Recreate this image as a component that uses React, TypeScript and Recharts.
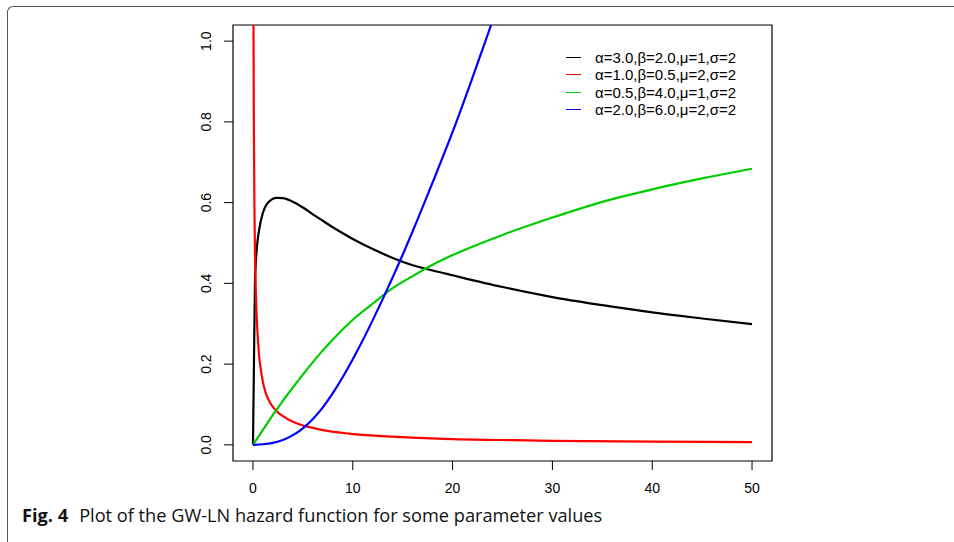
import { Legend, Line, LineChart, ReferenceArea, XAxis, YAxis } from "recharts";

const X_TICKS = [0, 10, 20, 30, 40, 50];
const Y_TICKS = [0, 0.2, 0.4, 0.6, 0.8, 1.0];

const SERIES_LABELS = [
  "α=3.0,β=2.0,μ=1,σ=2",
  "α=1.0,β=0.5,μ=2,σ=2",
  "α=0.5,β=4.0,μ=1,σ=2",
  "α=2.0,β=6.0,μ=2,σ=2",
];
const SERIES_COLORS = ["#000000", "#ff0000", "#00cd00", "#0000ff"];

// hazard values, one list per curve
const blackCurve = [
  { x: 0, y: 0 }, { x: 0.1, y: 0.2 }, { x: 0.2, y: 0.4 }, { x: 0.4, y: 0.49 },
  { x: 0.6, y: 0.53 }, { x: 1.0, y: 0.575 }, { x: 1.5, y: 0.6 }, { x: 2.4, y: 0.612 },
  { x: 3, y: 0.611 }, { x: 4, y: 0.602 }, { x: 5, y: 0.588 }, { x: 6, y: 0.571 },
  { x: 7, y: 0.555 }, { x: 8, y: 0.539 }, { x: 9, y: 0.524 }, { x: 10, y: 0.51 },
  { x: 12, y: 0.485 }, { x: 14, y: 0.463 }, { x: 16, y: 0.445 }, { x: 18, y: 0.432 },
  { x: 20, y: 0.42 }, { x: 25, y: 0.391 }, { x: 30, y: 0.366 }, { x: 35, y: 0.346 },
  { x: 40, y: 0.328 }, { x: 45, y: 0.313 }, { x: 50, y: 0.299 },
];

const redCurve = [
  { x: 0.02, y: 1.4 }, { x: 0.05, y: 1.05 }, { x: 0.1, y: 0.75 }, { x: 0.15, y: 0.58 },
  { x: 0.2, y: 0.48 }, { x: 0.3, y: 0.37 }, { x: 0.45, y: 0.28 }, { x: 0.6, y: 0.225 },
  { x: 0.8, y: 0.185 }, { x: 1.0, y: 0.155 }, { x: 1.3, y: 0.127 }, { x: 1.7, y: 0.105 },
  { x: 2.3, y: 0.085 }, { x: 3, y: 0.071 }, { x: 4, y: 0.057 }, { x: 5, y: 0.048 },
  { x: 6, y: 0.042 }, { x: 7.6, y: 0.034 }, { x: 9.6, y: 0.028 }, { x: 12.6, y: 0.022 },
  { x: 15, y: 0.019 }, { x: 20, y: 0.014 }, { x: 25, y: 0.012 }, { x: 30, y: 0.01 },
  { x: 40, y: 0.008 }, { x: 50, y: 0.0067 },
];

const greenCurve = [
  { x: 0, y: 0 }, { x: 1, y: 0.037 }, { x: 2, y: 0.074 }, { x: 3, y: 0.109 },
  { x: 4, y: 0.142 }, { x: 5, y: 0.174 }, { x: 6, y: 0.205 }, { x: 7, y: 0.234 },
  { x: 8, y: 0.261 }, { x: 9, y: 0.286 }, { x: 10, y: 0.31 }, { x: 12, y: 0.35 },
  { x: 14, y: 0.388 }, { x: 16, y: 0.418 }, { x: 18, y: 0.446 }, { x: 20, y: 0.47 },
  { x: 25, y: 0.52 }, { x: 30, y: 0.563 }, { x: 35, y: 0.602 }, { x: 40, y: 0.633 },
  { x: 45, y: 0.66 }, { x: 50, y: 0.684 },
];

const blueCurve = [
  { x: 0, y: 0 }, { x: 1, y: 0.0015 }, { x: 2, y: 0.005 }, { x: 3, y: 0.012 },
  { x: 4, y: 0.024 }, { x: 5, y: 0.041 }, { x: 6, y: 0.064 }, { x: 7, y: 0.093 },
  { x: 8, y: 0.128 }, { x: 9, y: 0.168 }, { x: 10, y: 0.212 }, { x: 11, y: 0.259 },
  { x: 12, y: 0.309 }, { x: 13, y: 0.361 }, { x: 14, y: 0.415 }, { x: 15, y: 0.471 },
  { x: 16, y: 0.529 }, { x: 18, y: 0.65 }, { x: 20, y: 0.775 }, { x: 22, y: 0.91 },
  { x: 24, y: 1.05 }, { x: 26, y: 1.19 },
];

const CURVES = [blackCurve, redCurve, greenCurve, blueCurve];

const FONT = '"Liberation Sans", Arial, sans-serif';
const LEGEND_ROW_TOPS = [0, 17, 35, 52];

function XTick({ x, y, payload }: any) {
  return (
    <text x={x} y={y + 22.5} textAnchor="middle" fontSize={14} fill="#000" fontFamily={FONT}>
      {payload.value}
    </text>
  );
}

function YTick({ x, y, payload }: any) {
  const tx = x - 12.5;
  return (
    <text
      x={tx}
      y={y}
      transform={`rotate(-90 ${tx} ${y})`}
      textAnchor="middle"
      fontSize={14}
      fill="#000"
      fontFamily={FONT}
    >
      {Number(payload.value).toFixed(1)}
    </text>
  );
}

// R-style boxless legend, kept in the order the curves were drawn
function PlotLegend() {
  return (
    <div style={{ position: "relative", height: 70, fontFamily: FONT, fontSize: 15, color: "#000" }}>
      {SERIES_LABELS.map((label, i) => (
        <div key={label} style={{ position: "absolute", left: 0, top: LEGEND_ROW_TOPS[i], height: 17 }}>
          <span
            style={{
              position: "absolute",
              left: 0,
              top: 8,
              width: 15,
              height: 1.4,
              background: SERIES_COLORS[i],
            }}
          />
          <span style={{ position: "absolute", left: 29, top: 0, lineHeight: "17px", whiteSpace: "nowrap" }}>
            {label}
          </span>
        </div>
      ))}
    </div>
  );
}

export default function App() {
  return (
    <div
      style={{
        position: "absolute",
        left: 0,
        top: 0,
        width: 954,
        height: 542,
        overflow: "hidden",
        background: "#fff",
      }}
    >
      <div
        style={{
          position: "absolute",
          left: 7,
          top: 6,
          width: 1000,
          height: 600,
          borderTop: "1.4px solid #555",
          borderLeft: "1.4px solid #555",
          borderTopLeftRadius: 6,
        }}
      />
      <div style={{ position: "absolute", left: 0, top: 0 }}>
        <LineChart width={954} height={542} margin={{ top: 25, right: 182, bottom: 41, left: 183 }}>
          <XAxis
            type="number"
            dataKey="x"
            domain={[-2, 52]}
            ticks={X_TICKS}
            interval={0}
            allowDataOverflow
            axisLine={false}
            tickLine={{ stroke: "#000" }}
            tickSize={9}
            tickMargin={0}
            height={40}
            tick={<XTick />}
          />
          <YAxis
            type="number"
            domain={[-0.04, 1.04]}
            ticks={Y_TICKS}
            interval={0}
            allowDataOverflow
            axisLine={false}
            tickLine={{ stroke: "#000" }}
            tickSize={9}
            tickMargin={0}
            width={50}
            tick={<YTick />}
          />
          <ReferenceArea
            x1={-2}
            x2={52}
            y1={-0.04}
            y2={1.04}
            ifOverflow="visible"
            fill="none"
            fillOpacity={0}
            stroke="#000"
            strokeWidth={1.2}
          />
          {CURVES.map((data, i) => (
            <Line
              key={SERIES_LABELS[i]}
              data={data}
              dataKey="y"
              name={SERIES_LABELS[i]}
              type="monotone"
              stroke={SERIES_COLORS[i]}
              strokeWidth={2.2}
              dot={false}
              activeDot={false}
              isAnimationActive={false}
            />
          ))}
          <Legend
            layout="vertical"
            verticalAlign="middle"
            align="center"
            content={<PlotLegend />}
            wrapperStyle={{ left: 566, top: 49, width: 220 }}
          />
        </LineChart>
      </div>
      <div
        style={{
          position: "absolute",
          left: 22,
          top: 503,
          fontFamily: '"Open Sans", "Noto Sans", sans-serif',
          fontSize: 18.2,
          color: "#111",
          whiteSpace: "nowrap",
        }}
      >
        <span style={{ fontWeight: 700 }}>Fig. 4</span>
        <span style={{ marginLeft: 11 }}>Plot of the GW-LN hazard function for some parameter values</span>
      </div>
    </div>
  );
}
